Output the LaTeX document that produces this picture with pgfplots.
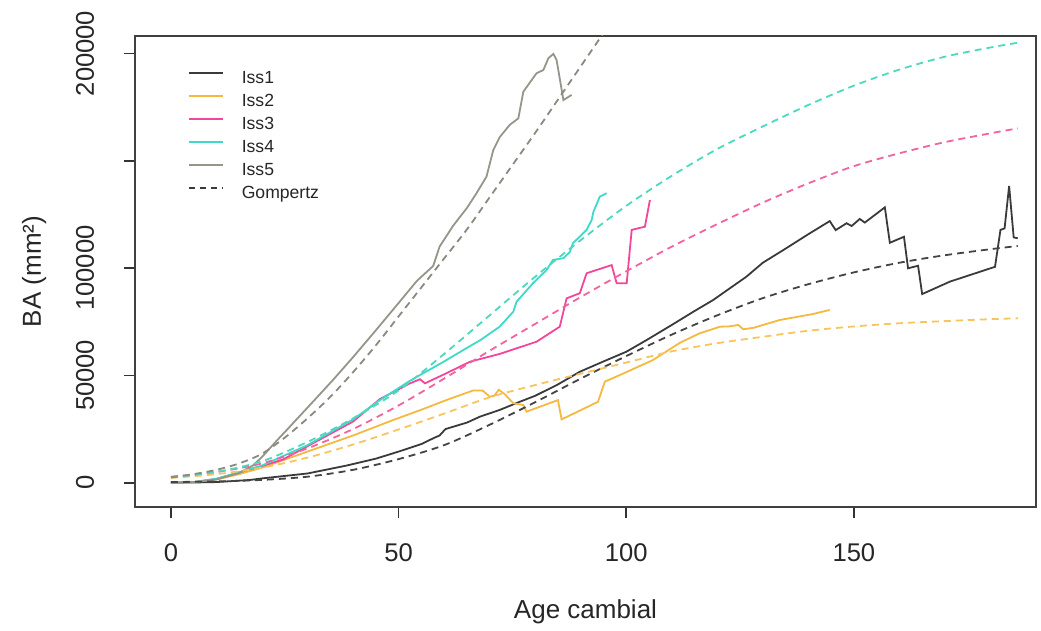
\documentclass[border=0pt]{standalone}
\usepackage{fontspec}
\setmainfont{Liberation Sans}
\usepackage{pgfplots}
\pgfplotsset{compat=1.18}
\usepackage{pgfplotstable}

\definecolor{cA}{HTML}{3A3A3A}
\definecolor{cB}{HTML}{F5B841}
\definecolor{cC}{HTML}{F2469B}
\definecolor{cD}{HTML}{3FD9CB}
\definecolor{cE}{HTML}{95958A}
\definecolor{dA}{HTML}{444444}
\definecolor{dB}{HTML}{F7C45E}
\definecolor{dC}{HTML}{F2639F}
\definecolor{dD}{HTML}{4DD9BE}
\definecolor{dE}{HTML}{8A8A80}

\pgfplotstableread{
x y
0 0
5 100
10 300
17.3 1260
20 2000
30 4300
38.6 8000
45 11200
50 14500
55 18000
57.9 21000
59 22000
60.3 25000
65 28000
67.9 30800
72.2 33900
76.6 37700
80 40500
85 45800
89.8 51700
95 56500
100 61000
104.5 66500
110 73500
115 80000
119 85000
126.4 96000
130 102500
134.5 108400
140 115800
144.7 121900
146 117700
148.4 120900
149.5 119600
151.3 122900
152.4 121200
156.8 128300
157.9 111800
161 114600
161.9 99900
164.1 101100
165 87900
171.1 93700
181 100600
182.2 117800
183.1 118500
184.1 138300
185.1 114300
186 113900
}\issA

\pgfplotstableread{
x y
0 0
5 300
10 1500
15 4000
20 7000
26.8 12100
30 14500
40 22000
48.8 29200
55 34000
60.5 38500
66.4 43000
68.5 42900
70 40100
71 40500
72 43300
73.3 41300
75.2 37000
77.4 36200
78.1 33100
85 38500
85.8 29500
93.8 37700
95.3 47100
100 51500
105.9 57200
111.8 65200
116 69500
120.6 72700
122.5 72800
124.6 73500
125.7 71500
128 72200
133.7 75800
141 78600
144.7 80500
}\issB

\pgfplotstableread{
x y
0 0
5 300
10 1800
20 7800
24.6 10800
30 17000
40 28500
45.9 39000
50 43500
52.5 46300
54.7 48200
55.8 46300
60 50500
65.7 56400
72.2 60000
80.3 65700
85.4 72700
86.9 85900
89.8 88300
91.3 97600
96.8 101400
97.9 92900
100.1 92900
101.2 117800
104.1 119300
105.2 131700
}\issC

\pgfplotstableread{
x y
0 0
5 300
10 1800
20 8000
30 17500
40 29500
45.9 38500
52.5 47500
55.4 51000
60 56500
64.2 61800
68 66500
72.2 72700
75.2 79700
75.9 84300
79.5 92900
82.5 99100
83.9 103800
86.2 104600
87.6 107500
88.3 111600
91.3 117800
92.4 122400
92.8 126300
94.2 133300
95.7 134900
}\issD

\pgfplotstableread{
x y
0 0
5 300
10 1500
15 4500
18 8000
20 12000
23.2 19500
25.4 24500
30 35000
35.6 47900
40 58500
45 71000
50.3 84500
54 94000
57.6 101000
59 110000
62 119800
65 128000
67 134500
69.3 142600
70.8 155000
72.2 161000
74.4 166700
76.3 169800
77.4 182200
80.3 190800
81.8 192300
82.9 197800
84 199800
84.7 197000
86.2 178300
88 180700
}\issE

\pgfplotstableread{
x y
0 300
10 600
20 1300
30 2800
40 6000
50 11000
60 17500
70 27000
80 37500
90 48500
100 59000
110 69000
120 78000
130 86000
140 92500
150 98000
160 102500
170 106000
180 108800
186 110300
}\gomA

\pgfplotstableread{
x y
0 2200
10 4000
20 7000
30 11700
40 17800
50 24800
60 32200
70 39800
80 45500
90 50800
100 56000
110 61200
120 65000
130 68000
140 70800
150 72800
160 74300
170 75300
180 76200
186 76600
}\gomB

\pgfplotstableread{
x y
0 2800
10 5000
20 9000
30 16000
40 25000
50 36000
60 48500
70 61500
80 74000
90 86500
100 98500
110 110000
120 120500
130 130500
140 139500
150 147500
160 153500
170 158700
180 162800
186 165100
}\gomC

\pgfplotstableread{
x y
0 2500
10 5000
20 10000
30 19000
40 30000
50 43000
60 60000
70 78000
80 96000
90 113000
100 129000
110 143000
120 155500
130 166000
140 176000
150 185000
160 192500
170 198500
180 202800
186 205000
}\gomD

\pgfplotstableread{
x y
0 2500
5 4000
10 6000
15 9000
20 13500
25 21000
30 30000
35 40000
40 51500
45 64000
50 77500
55 91000
60 104500
65 118000
70 133000
75 148000
80 163000
85 178500
90 194000
95 209500
}\gomE

\begin{document}
\begin{tikzpicture}
\path[use as bounding box] (-67.5pt,-62pt) rectangle (453pt,253.5pt);
\begin{axis}[
  at={(0,0)}, anchor=south west,
  scale only axis, width=450.5pt, height=235.5pt,
  xmin=-7.9, xmax=190, ymin=-11320, ymax=208150,
  xtick={0,50,100,150},
  ytick={0,50000,100000,150000,200000},
  yticklabels={0,50000,100000,,200000},
  scaled y ticks=false,
  xtick pos=bottom, ytick pos=left,
  tick align=outside, major tick length=5.5pt,
  tick style={color=black!80, line width=0.8pt},
  axis line style={color=black!75, line width=1pt},
  /pgf/number format/assume math mode=true,
  ticklabel style={font=\fontsize{12.8}{15}\selectfont, text=black!85},
  xticklabel style={anchor=north, inner sep=0pt, yshift=-12.8pt},
  yticklabel style={rotate=90, anchor=base, inner sep=0pt, yshift=15pt},
  xlabel={Age cambial},
  ylabel={BA (mm²)},
  label style={font=\fontsize{13}{15}\selectfont, text=black!85},
  xlabel style={at={(axis description cs:0.5,0)}, anchor=base, yshift=-56pt},
  ylabel style={at={(axis description cs:0,0.5)}, anchor=base, yshift=47pt},
  legend style={at={(axis description cs:0.0588,0.927)}, anchor=north west,
    draw=none, fill=none, inner sep=0pt, outer sep=0pt,
    font=\fontsize{8.8}{10}\selectfont, text=black!85,
    nodes={inner sep=0pt, text height=6.5pt, text depth=2pt},
    row sep=3pt, column sep=9pt},
  legend cell align=left,
  legend image code/.code={\draw[#1] (0pt,3pt) -- (17pt,3pt);},
  every axis plot/.append style={line width=0.9pt},
]
\addplot[cA, no marks] table {\issA};
\addlegendentry{Iss1}
\addplot[cB, no marks] table {\issB};
\addlegendentry{Iss2}
\addplot[cC, no marks] table {\issC};
\addlegendentry{Iss3}
\addplot[cD, no marks] table {\issD};
\addlegendentry{Iss4}
\addplot[cE, no marks] table {\issE};
\addlegendentry{Iss5}
\addlegendimage{cA, dash pattern=on 3pt off 2.5pt, line width=0.9pt}
\addlegendentry{Gompertz}
\addplot[dA, no marks, smooth, dash pattern=on 3.5pt off 2.5pt, forget plot] table {\gomA};
\addplot[dB, no marks, smooth, dash pattern=on 3.5pt off 2.5pt, forget plot] table {\gomB};
\addplot[dC, no marks, smooth, dash pattern=on 3.5pt off 2.5pt, forget plot] table {\gomC};
\addplot[dD, no marks, smooth, dash pattern=on 3.5pt off 2.5pt, forget plot] table {\gomD};
\addplot[dE, no marks, smooth, dash pattern=on 3.5pt off 2.5pt, forget plot] table {\gomE};
\end{axis}
\end{tikzpicture}
\end{document}
